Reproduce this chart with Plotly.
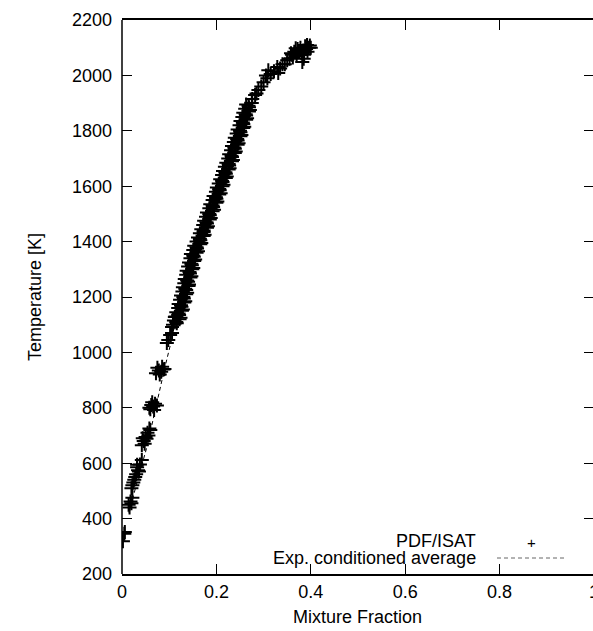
import plotly.graph_objects as go

# ---- Data ----
# PDF/ISAT scatter: mixture fraction (f) and temperature (T)
band_f = [0.108, 0.115, 0.122, 0.113, 0.120, 0.127, 0.119, 0.125, 0.132, 0.123,
          0.130, 0.136, 0.128, 0.134, 0.141, 0.132, 0.138, 0.145, 0.136, 0.143,
          0.149, 0.140, 0.147, 0.153, 0.145, 0.151, 0.158, 0.151, 0.158, 0.166,
          0.158, 0.165, 0.173, 0.165, 0.173, 0.180, 0.172, 0.179, 0.186, 0.178,
          0.185, 0.192, 0.185, 0.192, 0.200, 0.192, 0.199, 0.206, 0.199, 0.206,
          0.213, 0.205, 0.212, 0.220, 0.212, 0.219, 0.226, 0.218, 0.226, 0.233,
          0.225, 0.232, 0.239, 0.231, 0.238, 0.245, 0.237, 0.244, 0.251, 0.243,
          0.250, 0.257, 0.249, 0.256, 0.263, 0.255, 0.262, 0.269, 0.261, 0.268,
          0.275]
band_T = [1100, 1110, 1120, 1130, 1140, 1150, 1160, 1170, 1180, 1190,
          1200, 1210, 1220, 1230, 1240, 1250, 1260, 1270, 1280, 1290,
          1300, 1310, 1320, 1330, 1340, 1350, 1360, 1370, 1380, 1390,
          1400, 1410, 1420, 1430, 1440, 1450, 1460, 1470, 1480, 1490,
          1500, 1510, 1520, 1530, 1540, 1550, 1560, 1570, 1580, 1590,
          1600, 1610, 1620, 1630, 1640, 1650, 1660, 1670, 1680, 1690,
          1700, 1710, 1720, 1730, 1740, 1750, 1760, 1770, 1780, 1790,
          1800, 1810, 1820, 1830, 1840, 1850, 1860, 1870, 1880, 1890,
          1900]

band2_f = [0.116, 0.110, 0.124, 0.121, 0.115, 0.129, 0.126, 0.120, 0.134, 0.131,
           0.125, 0.138, 0.136, 0.129, 0.142, 0.140, 0.133, 0.147, 0.144, 0.137,
           0.151, 0.148, 0.142, 0.155, 0.152, 0.146, 0.161, 0.159, 0.153, 0.168,
           0.166, 0.161, 0.175, 0.173, 0.168, 0.182, 0.180, 0.174, 0.188, 0.186,
           0.180, 0.195, 0.193, 0.187, 0.202, 0.200, 0.194, 0.209, 0.207, 0.201,
           0.215, 0.213, 0.208, 0.222, 0.220, 0.214, 0.228, 0.227, 0.221, 0.235,
           0.233, 0.227, 0.241, 0.239, 0.233, 0.247, 0.245, 0.239, 0.253, 0.251,
           0.245, 0.259, 0.257, 0.251, 0.265, 0.263, 0.257, 0.271, 0.269, 0.263]
band2_T = [1105, 1115, 1125, 1135, 1145, 1155, 1165, 1175, 1185, 1195,
           1205, 1215, 1225, 1235, 1245, 1255, 1265, 1275, 1285, 1295,
           1305, 1315, 1325, 1335, 1345, 1355, 1365, 1375, 1385, 1395,
           1405, 1415, 1425, 1435, 1445, 1455, 1465, 1475, 1485, 1495,
           1505, 1515, 1525, 1535, 1545, 1555, 1565, 1575, 1585, 1595,
           1605, 1615, 1625, 1635, 1645, 1655, 1665, 1675, 1685, 1695,
           1705, 1715, 1725, 1735, 1745, 1755, 1765, 1775, 1785, 1795,
           1805, 1815, 1825, 1835, 1845, 1855, 1865, 1875, 1885, 1895]

upper_f = [0.276, 0.282, 0.289, 0.285, 0.295, 0.300, 0.308, 0.310, 0.305, 0.315,
           0.322, 0.329, 0.331, 0.335, 0.340,
           0.355, 0.360, 0.365, 0.370, 0.372, 0.378, 0.380, 0.384, 0.388, 0.390,
           0.393, 0.396, 0.398, 0.385, 0.375, 0.362, 0.368, 0.392, 0.382, 0.350,
           0.345, 0.358, 0.386, 0.400]
upper_T = [1915, 1929, 1947, 1935, 1960, 1975, 1990, 2019, 2000, 2005,
           2015, 2030, 2009, 2025, 2040,
           2060, 2075, 2085, 2070, 2095, 2100, 2080, 2090, 2105, 2095,
           2085, 2100, 2108, 2060, 2088, 2065, 2098, 2110, 2048, 2055,
           2040, 2080, 2075, 2100]

lower_f = [0.112, 0.119, 0.106, 0.102, 0.098, 0.106, 0.095,
           0.072, 0.078, 0.083, 0.088, 0.075, 0.085, 0.090, 0.080,
           0.058, 0.062, 0.066, 0.070, 0.074, 0.060, 0.068, 0.064,
           0.042, 0.046, 0.050, 0.054, 0.058, 0.048, 0.056, 0.052, 0.060, 0.044,
           0.042, 0.032,
           0.022, 0.026, 0.030, 0.034, 0.038, 0.028, 0.024, 0.032, 0.036, 0.020,
           0.014, 0.018, 0.022, 0.016, 0.020,
           0.006, 0.005, 0.002]
lower_T = [1128, 1135, 1092, 1063, 1045, 1070, 1034,
           925, 935, 930, 938, 945, 948, 940, 920,
           800, 810, 805, 815, 808, 795, 792, 820,
           665, 680, 695, 710, 725, 670, 700, 688, 720, 690,
           612, 594,
           520, 540, 560, 575, 595, 550, 530, 585, 570, 510,
           450, 462, 475, 440, 455,
           352, 345, 318]

# Experimental conditioned average
exp_f = [0.015, 0.030, 0.053, 0.070, 0.090, 0.119, 0.150, 0.200, 0.250, 0.300, 0.350, 0.380]
exp_T = [420, 520, 660, 790, 940, 1142, 1340, 1600, 1820, 1980, 2060, 2090]

x_ticks = [0, 0.2, 0.4, 0.6, 0.8, 1]
x_tick_text = ["0", "0.2", "0.4", "0.6", "0.8", "1"]
y_ticks = list(range(200, 2201, 200))

FONT = "Liberation Sans, Arial, Helvetica, sans-serif"
FS = 18

pdf_f = band_f + band2_f + upper_f + lower_f
pdf_T = band_T + band2_T + upper_T + lower_T

# plot-area geometry in pixels (right border lies just outside the window)
L, T_, W, H = 122, 20, 472, 554
FIG_W, FIG_H = 593, 631

def px(xp):
    return (xp - L) / W

def py(yp):
    return (T_ + H - yp) / H

fig = go.Figure()
fig.add_trace(go.Scatter(
    x=exp_f, y=exp_T, mode="lines",
    line=dict(color="black", width=1, dash="4px,3px"),
    showlegend=False,
))
fig.add_trace(go.Scatter(
    x=pdf_f, y=pdf_T, mode="markers",
    marker=dict(symbol="cross-thin", size=10, line=dict(color="black", width=2)),
    showlegend=False,
))

# left border line (the right border falls outside the picture)
fig.add_shape(type="line", xref="paper", yref="paper", x0=0, x1=0, y0=0, y1=1,
              line=dict(color="black", width=1.5), layer="above")

# custom legend (text left, sample right, gnuplot style)
fig.add_annotation(xref="paper", yref="paper", x=px(478), y=py(541),
                   text="PDF/ISAT", showarrow=False, xanchor="right", yanchor="middle",
                   font=dict(family=FONT, size=FS, color="black"))
fig.add_annotation(xref="paper", yref="paper", x=px(478), y=py(558),
                   text="Exp. conditioned average", showarrow=False, xanchor="right",
                   yanchor="middle", font=dict(family=FONT, size=FS, color="black"))
fig.add_annotation(xref="paper", yref="paper", x=px(531), y=py(542),
                   text="+", showarrow=False, xanchor="center", yanchor="middle",
                   font=dict(family=FONT, size=15, color="black"))
fig.add_shape(type="line", xref="paper", yref="paper",
              x0=px(497), x1=px(566), y0=py(558), y1=py(558),
              line=dict(color="#666666", width=1, dash="4px,3px"))

# axis titles
fig.add_annotation(xref="paper", yref="paper", x=px(357), y=py(617),
                   text="Mixture Fraction", showarrow=False, xanchor="center",
                   yanchor="middle", font=dict(family=FONT, size=FS, color="black"))
fig.add_annotation(xref="paper", yref="paper", x=px(35), y=py(297),
                   text="Temperature [K]", showarrow=False, xanchor="center",
                   yanchor="middle", textangle=-90,
                   font=dict(family=FONT, size=FS, color="black"))

axis_common = dict(
    showgrid=False, zeroline=False, linecolor="black", linewidth=1.5,
    mirror="ticks", ticks="inside", ticklen=10, tickwidth=1, tickcolor="black",
    tickfont=dict(family=FONT, size=FS, color="black"), automargin=False,
    ticklabeloverflow="allow",
)

fig.update_xaxes(
    range=[0, 1], tickvals=x_ticks, ticktext=x_tick_text,
    ticklabelstandoff=1, showline=True,
    **axis_common,
)
fig.update_yaxes(
    range=[200, 2200], tickvals=y_ticks,
    ticklabelstandoff=9, showline=False,
    **axis_common,
)

fig.update_layout(
    width=L + W, height=FIG_H,
    margin=dict(l=L, r=0, t=T_, b=FIG_H - T_ - H, autoexpand=False),
    plot_bgcolor="white", paper_bgcolor="white",
    font=dict(family=FONT, size=FS, color="black"),
    showlegend=False,
)

fig.write_html(
    "out.html",
    config={"displayModeBar": False},
    post_script="document.body.style.margin='0';document.body.style.overflow='hidden';",
)
